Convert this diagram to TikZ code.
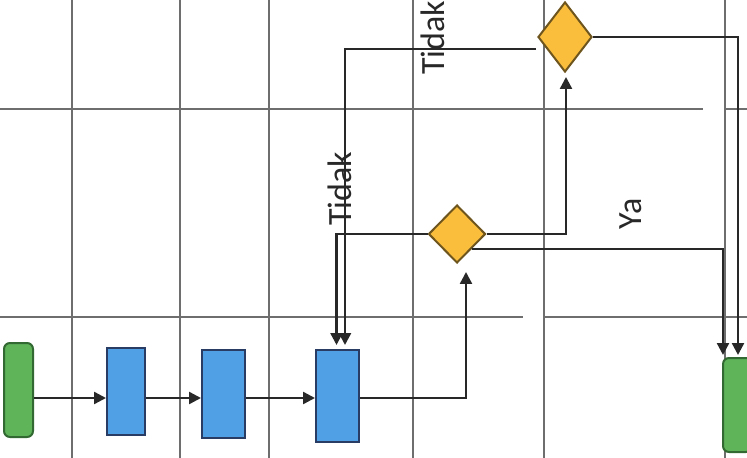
\documentclass[tikz,border=0pt]{standalone}
\usepackage{fontspec}
\setmainfont{Carlito}
\usetikzlibrary{shapes.geometric,arrows.meta}
\definecolor{lanegray}{RGB}{110,110,110}
\definecolor{linegray}{RGB}{40,40,40}
\definecolor{procblue}{RGB}{80,160,230}
\definecolor{procedge}{RGB}{40,60,100}
\definecolor{termgreen}{RGB}{95,180,90}
\definecolor{termedge}{RGB}{50,105,50}
\definecolor{decorange}{RGB}{250,190,60}
\definecolor{decedge}{RGB}{110,85,30}

\begin{document}
\begin{tikzpicture}[x=0.5pt,y=-0.5pt,>={Triangle[length=6pt,width=6pt]},
	lane/.style={lanegray,line width=0.75pt},
	link/.style={->,linegray,line width=1.2pt},
	proc/.style={draw=procedge,fill=procblue,line width=1pt,inner sep=0pt},
	term/.style={draw=termedge,fill=termgreen,line width=1pt,rounded corners=3pt,inner sep=0pt,minimum width=14.5pt,minimum height=47pt},
	dec/.style={diamond,draw=decedge,fill=decorange,line width=1pt,inner sep=0pt},
	lbl/.style={rotate=90,text=linegray,font=\fontsize{17}{19}\selectfont,inner sep=0pt}]
	\useasboundingbox (0,0) rectangle (747,458);
	\clip (0,0) rectangle (747,458);
	% lanes
	\foreach \x in {72,180,269,413,544,725}\draw[lane] (\x,0)--(\x,458);
	\draw[lane] (0,109)--(703,109) (725,109)--(747,109);
	\draw[lane] (0,317)--(523,317) (544,317)--(747,317);
	% shapes
	\node[term] (mulai) at (18.5,390) {};
	\node[proc,minimum width=19pt,minimum height=43.5pt] (proses1) at (126,391.5) {};
	\node[proc,minimum width=21.5pt,minimum height=44pt] (proses2) at (223.5,394) {};
	\node[proc,minimum width=21.5pt,minimum height=46pt] (proses3) at (337.5,396) {};
	\node[dec,minimum width=28.5pt,minimum height=29pt] (cek1) at (457,234) {};
	\node[dec,minimum width=27pt,minimum height=35pt] (cek2) at (565,37) {};
	\node[term] (selesai) at (737.5,405) {};
	% flow
	\coordinate (jalur) at (0,398);
	\draw[link] (mulai.east |- jalur) -- (proses1.west |- jalur);
	\draw[link] (proses1.east |- jalur) -- (proses2.west |- jalur);
	\draw[link] (proses2.east |- jalur) -- (proses3.west |- jalur);
	\draw[link] (proses3.east |- jalur) -| ([shift={(9,8)}]cek1.south);
	\draw[link] (cek1.east) -| ([shift={(1,4)}]cek2.south);
	\draw[link] (cek1.south east) -| ([shift={(1,-2)}]selesai.north west);
	\draw[link] (cek2.east) -| ([shift={(0.5,-2)}]selesai.north);
	\draw[link] (cek1.west) -| ([shift={(-1,-4)}]proses3.north);
	\draw[link] ([shift={(-1,12)}]cek2.west) -| ([shift={(7.5,-4)}]proses3.north);
	% labels
	\node[lbl] (tidak1) at (433,38) {Tidak};
	\node[lbl] (tidak2) at (340,189) {Tidak};
	\node[lbl] (ya) at (631,214) {Ya};
\end{tikzpicture}
\end{document}
